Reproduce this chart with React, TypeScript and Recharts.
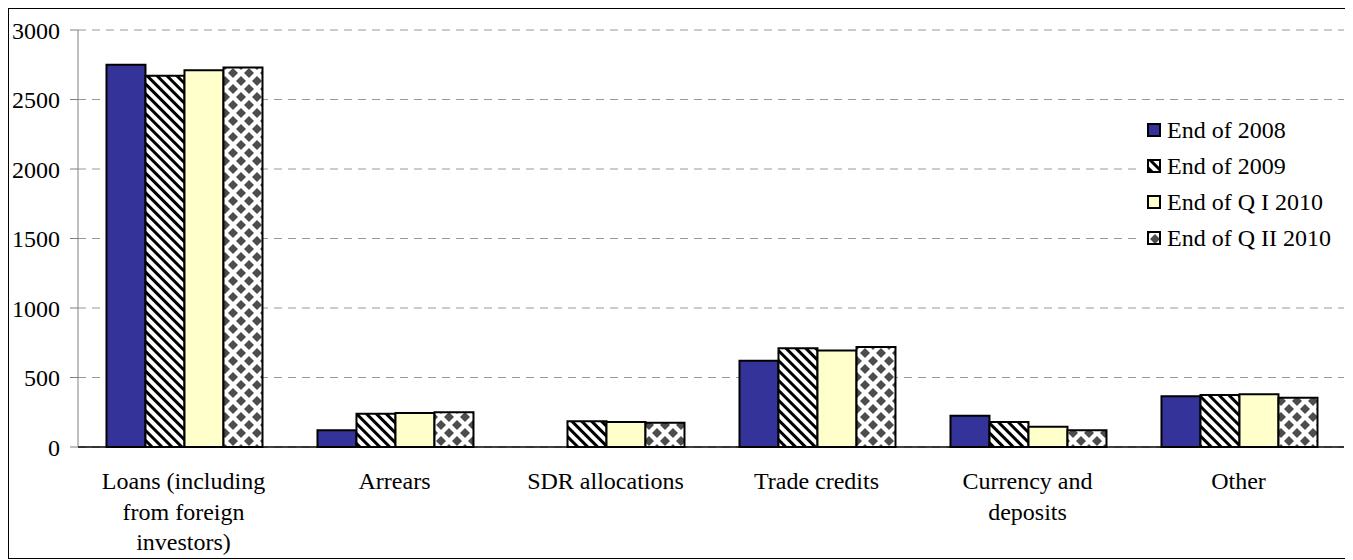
import { Bar, BarChart, CartesianGrid, XAxis, YAxis } from "recharts";

const categories = [
  "Loans (including from foreign investors)",
  "Arrears",
  "SDR allocations",
  "Trade credits",
  "Currency and deposits",
  "Other",
];
const end2008 = [2750, 120, null, 620, 225, 365];
const end2009 = [2670, 240, 185, 710, 180, 375];
const endQ1 = [2710, 245, 180, 695, 145, 380];
const endQ2 = [2730, 250, 175, 720, 120, 355];
const yTicks = [0, 500, 1000, 1500, 2000, 2500, 3000];
const edgeTicks = [0, 1, 2, 3, 4, 5, 6];

const seriesNames = ["End of 2008", "End of 2009", "End of Q I 2010", "End of Q II 2010"];
const fills = ["#333399", "url(#stripes)", "#FFFFCC", "url(#diamonds)"];

const data = categories.map((name, i) => ({
  name,
  s2008: end2008[i],
  s2009: end2009[i],
  sQ1: endQ1[i],
  sQ2: endQ2[i],
}));
const keys = ["s2008", "s2009", "sQ1", "sQ2"];

const FONT = "Liberation Serif";
const FS = 24;

// crude word wrap, excel style
const wrap = (s: string, max = 16) => {
  const words = s.split(" ");
  const lines: string[] = [];
  let cur = "";
  words.forEach((w) => {
    const next = cur ? cur + " " + w : w;
    if (next.length > max && cur) {
      lines.push(cur);
      cur = w;
    } else cur = next;
  });
  if (cur) lines.push(cur);
  return lines;
};

const CatTick = (props: any) => {
  const { x, y, payload } = props;
  const lines = wrap(String(payload.value));
  return (
    <text x={x} y={y} textAnchor="middle" fontFamily={FONT} fontSize={FS} fill="#000">
      {lines.map((l, i) => (
        <tspan key={i} x={x} dy={i === 0 ? 42 : 30.5}>
          {l}
        </tspan>
      ))}
    </text>
  );
};

const Swatch = ({ fill }: { fill: string }) => (
  <svg width={14} height={14} style={{ display: "block" }}>
    <rect x={1} y={1} width={12} height={12} fill={fill} stroke="#000" strokeWidth={2} />
  </svg>
);

const App = () => {
  return (
    <div
      style={{
        position: "relative",
        width: 1343,
        height: 549,
        border: "1px solid #000",
        fontFamily: FONT,
      }}
    >
      <svg width={0} height={0} style={{ position: "absolute" }}>
        <defs>
          <pattern id="stripes" width="7" height="7" patternUnits="userSpaceOnUse" patternTransform="rotate(-45)">
            <rect width="7" height="7" fill="#fff" />
            <rect width="3" height="7" fill="#000" />
          </pattern>
          <pattern id="diamonds" width="16" height="16" patternUnits="userSpaceOnUse">
            <rect width="16" height="16" fill="#fff" />
            <polygon points="0,-5 5,0 0,5 -5,0" fill="#4d4d4d" />
            <polygon points="16,-5 21,0 16,5 11,0" fill="#4d4d4d" />
            <polygon points="0,11 5,16 0,21 -5,16" fill="#4d4d4d" />
            <polygon points="16,11 21,16 16,21 11,16" fill="#4d4d4d" />
            <polygon points="8,3 13,8 8,13 3,8" fill="#4d4d4d" />
          </pattern>
        </defs>
      </svg>
      <BarChart
        width={1343}
        height={549}
        data={data}
        margin={{ top: 21, right: 8, left: 9, bottom: 11 }}
        barCategoryGap="13.5%"
        barGap={0}
      >
        <CartesianGrid vertical={false} stroke="#999" strokeDasharray="8 6" />
        <XAxis
          xAxisId="edge"
          type="number"
          domain={[0, 6]}
          ticks={edgeTicks}
          tick={false}
          tickSize={8}
          axisLine={false}
          tickLine={{ stroke: "#000" }}
          height={0}
          allowDataOverflow
        />
        <XAxis
          dataKey="name"
          height={100}
          interval={0}
          tickLine={false}
          tickSize={0}
          tickMargin={0}
          axisLine={{ stroke: "#000", strokeWidth: 1.5 }}
          tick={<CatTick />}
        />
        <YAxis
          width={60}
          domain={[0, 3000]}
          ticks={yTicks}
          interval={0}
          tickSize={8}
          tickMargin={10}
          axisLine={{ stroke: "#808080" }}
          tickLine={{ stroke: "#808080" }}
          tick={{ fontFamily: FONT, fontSize: FS, fill: "#000" }}
        />
        {keys.map((k, i) => (
          <Bar
            key={k}
            dataKey={k}
            name={seriesNames[i]}
            fill={fills[i]}
            stroke="#000"
            strokeWidth={2}
            isAnimationActive={false}
          />
        ))}
      </BarChart>
      <div
        style={{
          position: "absolute",
          left: 1131,
          top: 103,
          width: 210,
          height: 145,
          background: "#fff",
        }}
      >
        {seriesNames.map((n, i) => (
          <div
            key={n}
            style={{
              display: "flex",
              alignItems: "center",
              height: 36,
              paddingLeft: 7,
              fontSize: FS,
              color: "#000",
              whiteSpace: "nowrap",
            }}
          >
            <Swatch fill={fills[i]} />
            <span style={{ marginLeft: 6 }}>{n}</span>
          </div>
        ))}
      </div>
    </div>
  );
};

export default App;
